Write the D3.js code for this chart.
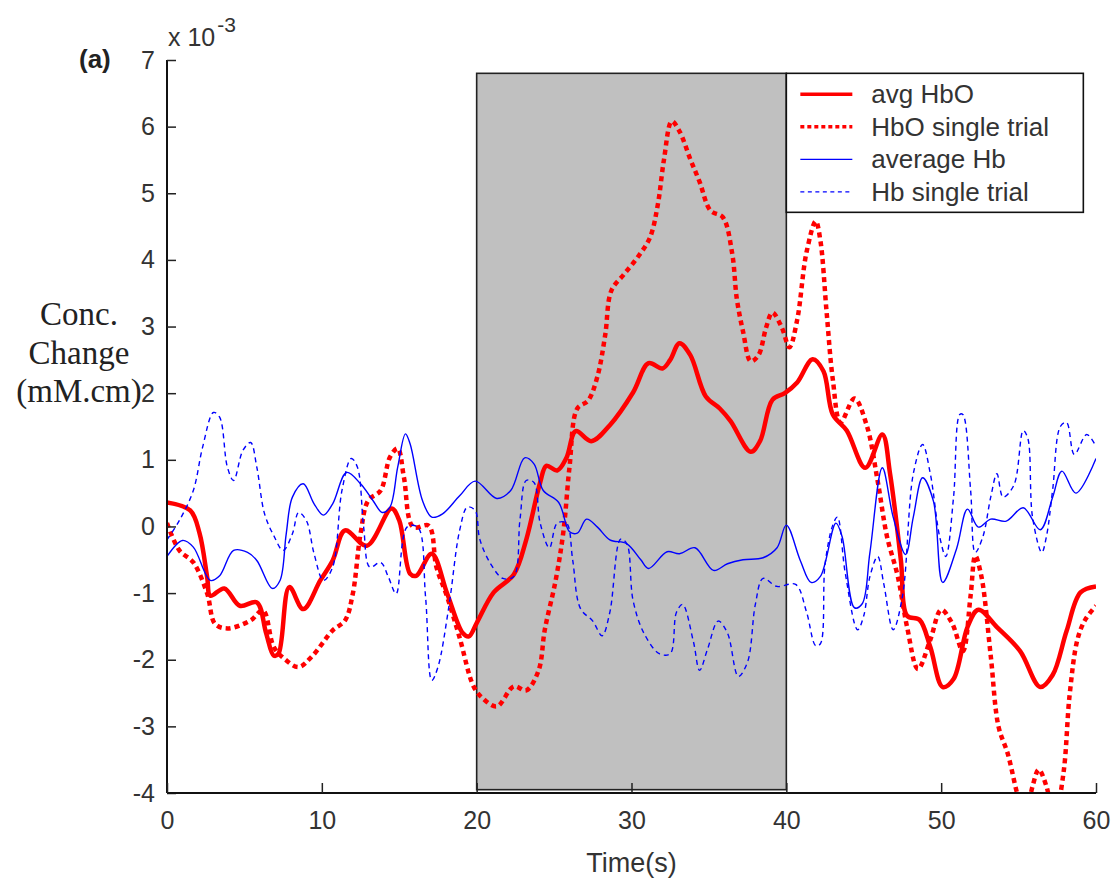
<!DOCTYPE html>
<html>
<head>
<meta charset="utf-8">
<script src="https://cdn.jsdelivr.net/npm/d3@7"></script>
<style>
  body { margin: 0; background: #fff; }
  svg text { font-family: Arial, "Liberation Sans", sans-serif; }
</style>
</head>
<body>
<div id="chart"></div>
<script>
// values in units of 10^-3 mM.cm, times in seconds
const tAvgHbO = [0, 1.5, 2.1, 2.6, 2.8, 3.7, 4.7, 5.8, 6.4, 6.9, 7.2, 7.9, 8.8, 9.9, 10.7, 11.5, 12.9, 14.5, 15.0, 15.7, 16.1, 17.1, 18.1, 19.1, 19.5, 20.0, 21.1, 22.4, 23.2, 24.1, 24.5, 25.2, 25.8, 26.4, 27.4, 28.6, 30.1, 31.1, 32.0, 32.5, 33.1, 33.8, 34.8, 35.7, 36.4, 37.7, 38.3, 39.1, 39.9, 40.7, 41.7, 42.4, 43.0, 43.9, 45.1, 46.2, 46.7, 47.4, 47.8, 48.6, 49.3, 50.1, 50.8, 51.7, 52.4, 53.6, 55.1, 56.4, 57.2, 58.1, 59.0, 60];
const vAvgHbO = [0.36, 0.24, -0.1, -0.77, -1.04, -0.93, -1.19, -1.14, -1.6, -1.94, -1.91, -0.91, -1.24, -0.81, -0.51, -0.06, -0.29, 0.27, 0.09, -0.71, -0.74, -0.41, -1.01, -1.6, -1.65, -1.45, -0.99, -0.72, -0.2, 0.66, 0.91, 0.84, 1.03, 1.43, 1.28, 1.52, 2.01, 2.45, 2.37, 2.5, 2.75, 2.57, 1.95, 1.77, 1.58, 1.12, 1.28, 1.9, 2.0, 2.16, 2.51, 2.33, 1.68, 1.44, 0.88, 1.38, 0.79, -0.51, -1.34, -1.4, -1.81, -2.41, -2.29, -1.51, -1.25, -1.51, -1.87, -2.41, -2.23, -1.57, -0.99, -0.9];

const tTrialHbO = [0, 0.8, 1.7, 2.6, 3.1, 3.9, 5.4, 6.2, 6.9, 7.6, 8.5, 9.4, 10.7, 11.5, 12.0, 12.5, 13.0, 13.8, 14.4, 14.9, 15.3, 15.9, 16.9, 17.4, 18.1, 18.9, 19.8, 20.4, 21.3, 22.4, 23.2, 24.0, 24.4, 25.1, 25.6, 26.0, 26.5, 27.2, 27.8, 28.3, 28.7, 29.5, 30.4, 31.2, 31.7, 32.1, 32.6, 33.1, 33.8, 34.4, 35.1, 35.9, 36.5, 36.8, 37.2, 37.7, 38.2, 38.7, 39.1, 39.7, 40.2, 40.7, 41.3, 41.9, 42.2, 42.6, 43.0, 43.5, 44.4, 45.2, 45.9, 46.5, 47.2, 47.8, 48.5, 49.3, 50.0, 50.7, 51.4, 51.9, 52.2, 52.6, 53.2, 53.7, 54.3, 54.9, 55.4, 55.9, 56.3, 56.8, 57.3, 57.9, 58.3, 58.8, 59.3, 60];
const vTrialHbO = [0.05, -0.36, -0.54, -1.01, -1.46, -1.53, -1.41, -1.26, -1.81, -1.99, -2.11, -1.94, -1.56, -1.41, -1.01, -0.11, 0.39, 0.54, 1.04, 1.17, 0.74, -0.01, 0.01, -0.61, -1.06, -1.67, -2.4, -2.58, -2.7, -2.4, -2.46, -2.16, -1.55, -0.81, -0.08, 0.9, 1.77, 1.89, 2.25, 2.87, 3.54, 3.78, 4.04, 4.34, 4.83, 5.51, 6.08, 5.93, 5.51, 5.17, 4.74, 4.64, 4.1, 3.42, 2.93, 2.48, 2.57, 2.99, 3.21, 2.99, 2.69, 3.1, 4.11, 4.58, 4.29, 3.22, 2.21, 1.56, 1.92, 1.51, 0.68, -0.15, -0.75, -1.51, -2.14, -1.7, -1.25, -1.45, -1.87, -1.04, -0.44, -0.75, -1.94, -3.0, -3.41, -4.0, -4.4, -3.9, -3.65, -3.9, -4.4, -3.7, -2.52, -1.7, -1.4, -1.19];

const tAvgHb = [0, 1.0, 1.7, 2.8, 3.4, 4.3, 5.2, 5.8, 6.8, 7.3, 7.7, 8.1, 8.8, 9.5, 10.1, 10.7, 11.6, 12.5, 13.3, 13.9, 14.4, 14.9, 15.4, 15.7, 16.5, 17.1, 17.8, 18.9, 19.9, 21.3, 22.2, 23.1, 23.7, 24.3, 25.3, 26.0, 26.5, 27.1, 27.8, 28.6, 29.7, 30.6, 31.1, 32.3, 33.1, 34.1, 35.3, 36.2, 37.2, 38.5, 39.4, 40.0, 40.9, 41.6, 42.2, 43.2, 43.6, 44.4, 44.9, 45.4, 46.2, 46.9, 47.7, 48.2, 48.8, 49.5, 50.1, 51.0, 51.7, 52.4, 53.2, 54.2, 55.3, 56.4, 57.2, 57.8, 58.7, 60];
const vAvgHb = [-0.45, -0.21, -0.31, -0.81, -0.74, -0.36, -0.39, -0.51, -0.93, -0.81, -0.11, 0.44, 0.64, 0.34, 0.17, 0.34, 0.81, 0.64, 0.39, 0.21, 0.29, 0.89, 1.39, 1.24, 0.39, 0.14, 0.19, 0.46, 0.68, 0.42, 0.54, 1.03, 0.94, 0.54, 0.36, -0.08, -0.1, 0.11, -0.01, -0.2, -0.26, -0.5, -0.63, -0.38, -0.41, -0.32, -0.66, -0.56, -0.5, -0.47, -0.32, 0.02, -0.51, -0.84, -0.75, 0.05, -0.15, -1.22, -1.16, -0.39, 0.88, 0.14, -0.42, 0.14, 0.73, 0.38, -0.84, -0.33, 0.26, -0.01, 0.11, 0.08, 0.28, -0.05, 0.44, 0.83, 0.5, 1.02];

const tTrialHb = [0, 0.8, 1.7, 2.3, 3.0, 3.4, 3.9, 4.3, 4.9, 5.4, 5.8, 6.3, 6.9, 7.5, 8.1, 8.5, 9.0, 9.5, 10.1, 10.7, 11.3, 11.9, 12.3, 12.7, 13.1, 13.8, 14.3, 14.8, 15.5, 16.2, 16.7, 17.1, 17.5, 18.2, 18.9, 19.4, 19.9, 20.2, 20.9, 21.7, 22.4, 22.8, 23.2, 23.7, 24.1, 24.7, 25.2, 25.8, 26.2, 26.7, 27.5, 28.1, 28.6, 29.3, 29.7, 30.1, 30.8, 31.8, 32.5, 32.9, 33.3, 34.0, 34.4, 34.9, 35.6, 36.2, 36.9, 37.5, 38.0, 38.5, 39.4, 40.6, 41.3, 41.9, 42.2, 42.5, 43.0, 43.3, 43.8, 44.6, 45.0, 45.4, 45.9, 46.3, 46.9, 47.5, 48.2, 48.8, 49.3, 49.9, 50.3, 50.8, 51.2, 51.4, 51.9, 52.2, 52.7, 53.2, 53.6, 54.0, 54.7, 55.3, 55.6, 55.9, 56.5, 56.8, 57.2, 57.7, 58.1, 58.6, 59.4, 60];
const vTrialHb = [-0.2, 0.09, 0.54, 1.19, 1.71, 1.64, 0.89, 0.69, 1.14, 1.26, 0.89, 0.19, -0.14, -0.36, -0.11, 0.21, 0.09, -0.41, -0.81, -0.61, 0.54, 1.02, 0.89, -0.01, -0.61, -0.54, -0.76, -1.01, -0.01, -0.01, -1.06, -2.31, -2.11, -1.21, -0.06, 0.29, 0.24, -0.19, -0.56, -0.78, -0.75, 0.11, 0.69, 0.66, 0.05, -0.32, 0.05, 0.05, -0.5, -1.23, -1.42, -1.64, -1.29, -0.19, -0.26, -1.11, -1.6, -1.91, -1.91, -1.29, -1.17, -1.73, -2.16, -1.85, -1.42, -1.6, -2.25, -2.03, -1.17, -0.78, -0.9, -0.87, -1.28, -1.79, -1.76, -0.57, 0.02, 0.14, -0.69, -1.55, -1.34, -0.75, -0.45, -0.87, -1.55, -1.05, 0.79, 1.23, 0.79, -0.15, -0.45, 0.44, 1.68, 1.68, 0.55, -0.39, -0.15, 0.44, 0.79, 0.44, 0.62, 1.44, 1.32, 0.14, -0.39, -0.15, 0.55, 1.5, 1.56, 1.08, 1.38, 1.2];

const legendLabels = ["avg HbO", "HbO single trial", "average Hb", "Hb single trial"];
const xTicks = [0, 10, 20, 30, 40, 50, 60];
const yTicks = [-4, -3, -2, -1, 0, 1, 2, 3, 4, 5, 6, 7];
const stimulus = [20, 40];

const W = 1115, H = 881;
const margin = { top: 60, right: 19, bottom: 88, left: 167 };
const width = W - margin.left - margin.right;
const height = H - margin.top - margin.bottom;

const svg = d3.select("#chart").append("svg")
  .attr("width", W)
  .attr("height", H);

const g = svg.append("g")
  .attr("transform", "translate(" + margin.left + "," + margin.top + ")");

const x = d3.scaleLinear().domain([0, 60]).range([0, width]);
const y = d3.scaleLinear().domain([-4, 7]).range([height, 0]);

// shaded stimulus period
g.append("rect")
  .attr("x", x(stimulus[0]))
  .attr("y", y(6.8))
  .attr("width", x(stimulus[1]) - x(stimulus[0]))
  .attr("height", y(-3.95) - y(6.8))
  .attr("fill", "#c0c0c0")
  .attr("stroke", "#222")
  .attr("stroke-width", 1.6);

g.append("clipPath").attr("id", "clip")
  .append("rect")
  .attr("x", 0).attr("y", 0)
  .attr("width", width).attr("height", height);

const line = d3.line()
  .x(d => x(d[0]))
  .y(d => y(d[1]))
  .curve(d3.curveCatmullRom.alpha(0.5));

const series = [
  { t: tAvgHbO, v: vAvgHbO, color: "#ff0000", w: 4.5, dash: null },
  { t: tTrialHbO, v: vTrialHbO, color: "#ff0000", w: 4.5, dash: "5,4" },
  { t: tAvgHb, v: vAvgHb, color: "#0000ff", w: 1.4, dash: null },
  { t: tTrialHb, v: vTrialHb, color: "#0000ff", w: 1.4, dash: "5,4" }
];

const lines = g.append("g").attr("clip-path", "url(#clip)");
series.forEach(s => {
  lines.append("path")
    .datum(s.t.map((t, i) => [t, s.v[i]]))
    .attr("d", line)
    .attr("fill", "none")
    .attr("stroke", s.color)
    .attr("stroke-width", s.w)
    .attr("stroke-dasharray", s.dash);
});

// axes, ticks pointing inward, plain hyphen minus like the original
const fmt = d => String(d);
const yAxis = d3.axisLeft(y).tickValues(yTicks).tickSize(-9).tickPadding(12).tickFormat(fmt);
const xAxis = d3.axisBottom(x).tickValues(xTicks).tickSize(-10).tickPadding(18).tickFormat(fmt);

const ya = g.append("g").call(yAxis);
const xa = g.append("g").attr("transform", "translate(0," + height + ")").call(xAxis);

[ya, xa].forEach(a => {
  a.select(".domain").attr("stroke", "#111").attr("stroke-width", 2);
  a.selectAll(".tick line").attr("stroke", "#222").attr("stroke-width", 1.5);
  a.selectAll(".tick text")
    .attr("font-size", 25)
    .attr("fill", "#333")
    .attr("font-family", "Arial, 'Liberation Sans', sans-serif");
});
// no outer tick stubs on the domain
ya.select(".domain").attr("d", "M0," + height + "V0");
xa.select(".domain").attr("d", "M0,0H" + width);

// legend
const lg = g.append("g").attr("transform", "translate(" + x(40) + "," + y(6.8) + ")");
lg.append("rect")
  .attr("width", 297).attr("height", 139)
  .attr("fill", "#fff")
  .attr("stroke", "#111")
  .attr("stroke-width", 1.6);
legendLabels.forEach((lab, i) => {
  const yy = 21 + i * 32.5;
  const s = series[i];
  lg.append("line")
    .attr("x1", 14).attr("x2", 66)
    .attr("y1", yy).attr("y2", yy)
    .attr("stroke", s.color)
    .attr("stroke-width", s.w === 4.5 ? 3.5 : 1.4)
    .attr("stroke-dasharray", s.dash ? (s.w === 4.5 ? "4,3" : "4,3.5") : null);
  lg.append("text")
    .attr("x", 85).attr("y", yy + 9)
    .attr("font-size", 26)
    .attr("fill", "#333")
    .text(lab);
});

// exponent and panel label
const ex = svg.append("text")
  .attr("x", 168).attr("y", 46)
  .attr("font-size", 25)
  .attr("fill", "#333");
ex.append("tspan").text("x 10");
ex.append("tspan").attr("dx", 2).attr("dy", -14).attr("font-size", 21).text("-3");

svg.append("text")
  .attr("x", 79).attr("y", 68)
  .attr("font-size", 26)
  .attr("font-weight", "bold")
  .attr("fill", "#222")
  .text("(a)");

// y label in serif
const yl = svg.append("text")
  .attr("text-anchor", "middle")
  .attr("font-size", 33)
  .attr("fill", "#222")
  .style("font-family", "'Liberation Serif', 'DejaVu Serif', serif");
["Conc.", "Change", "(mM.cm)"].forEach((t, i) => {
  yl.append("tspan").attr("x", 79).attr("y", 325 + i * 38.5).text(t);
});

svg.append("text")
  .attr("x", margin.left + x(30)).attr("y", 872)
  .attr("text-anchor", "middle")
  .attr("font-size", 27)
  .attr("fill", "#333")
  .text("Time(s)");
</script>
</body>
</html>
